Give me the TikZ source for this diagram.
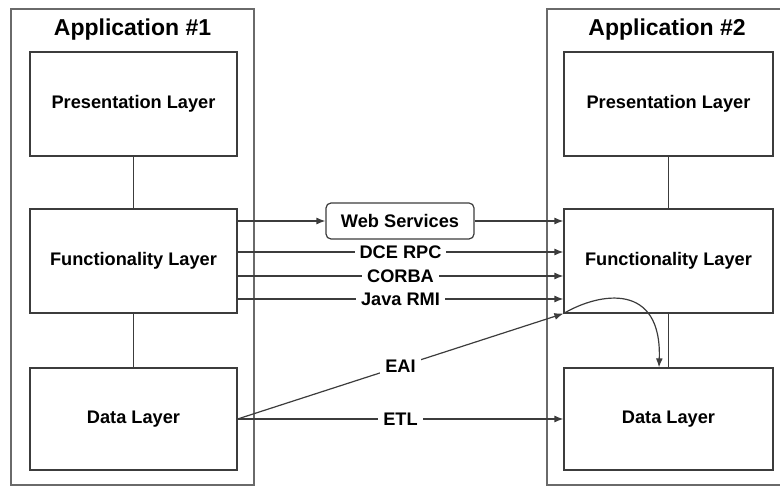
\documentclass[tikz,border=0pt]{standalone}
\usepackage{fontspec}
\setmainfont{Liberation Sans}
\usetikzlibrary{arrows.meta,calc}
\definecolor{boxline}{HTML}{3C3C3C}
\definecolor{contline}{HTML}{6A6A6A}
\tikzset{
  layerbox/.style={draw=boxline, line width=1.2pt, rectangle, inner sep=0pt,
    font=\fontsize{18.2}{21}\selectfont\bfseries, text=black},
  apptitle/.style={font=\fontsize{23}{26}\selectfont\bfseries, text=black, inner sep=0pt},
  container/.style={draw=contline, line width=1.2pt},
  link/.style={draw=boxline, line width=1.2pt},
  arr/.style={link, -{Latex[length=9pt,width=7pt]}},
  lbl/.style={fill=white, inner xsep=5pt, inner ysep=1.5pt, font=\fontsize{18.2}{21}\selectfont\bfseries, text=black},
}
\begin{document}
\begin{tikzpicture}[x=1pt,y=-1pt]
\useasboundingbox (0,0) rectangle (780,486);
\begin{scope}
\clip (0,0) rectangle (780,486);
% containers
\draw[container] (11,9) rectangle (254,485);
\draw[container] (547,9) rectangle (800,485);
\end{scope}
\node[apptitle] (t1) at (132.5,30) {Application \#1};
\node[apptitle] (t2) at (667,30) {Application \#2};
% left layers
\node[layerbox, minimum width=207pt, minimum height=104pt] (pl1) at (133.5,104) {Presentation Layer};
\node[layerbox, minimum width=207pt, minimum height=104pt] (fl1) at (133.5,261) {Functionality Layer};
\node[layerbox, minimum width=207pt, minimum height=102pt] (dl1) at (133.5,419) {Data Layer};
% right layers
\node[layerbox, minimum width=209pt, minimum height=104pt] (pl2) at (668.5,104) {Presentation Layer};
\node[layerbox, minimum width=209pt, minimum height=104pt] (fl2) at (668.5,261) {Functionality Layer};
\node[layerbox, minimum width=209pt, minimum height=102pt] (dl2) at (668.5,419) {Data Layer};
% vertical links
\draw[link] (pl1) -- (fl1);
\draw[link] (fl1) -- (dl1);
\draw[link] (pl2) -- (fl2);
\draw[link] (fl2) -- (dl2);
% web services
\node[draw=boxline, line width=1.2pt, rounded corners=5pt, minimum width=148pt, minimum height=36pt, inner sep=0pt,
  font=\fontsize{18.2}{21}\selectfont\bfseries] (ws) at (400,221) {Web Services};
\draw[arr] (fl1.east |- ws.west) -- (ws.west);
\draw[arr] (ws.east) -- (fl2.west |- ws.east);
% middleware arrows
\draw[arr] ([yshift=9pt]fl1.east) -- node[lbl] {DCE RPC} ([yshift=9pt]fl2.west);
\draw[arr] ([yshift=-15pt]fl1.east) -- node[lbl] {CORBA} ([yshift=-15pt]fl2.west);
\draw[arr] ([yshift=-38pt]fl1.east) -- node[lbl] {Java RMI} ([yshift=-38pt]fl2.west);
% EAI
\draw[arr] (dl1.east) -- node[lbl] {EAI} (fl2.south west);
\draw[arr] (fl2.south west) .. controls (600,292) and (662,282) .. ([xshift=-9.5pt]dl2.north);
% ETL
\draw[arr] (dl1.east) -- node[lbl] {ETL} (dl2.west);
\end{tikzpicture}
\end{document}
